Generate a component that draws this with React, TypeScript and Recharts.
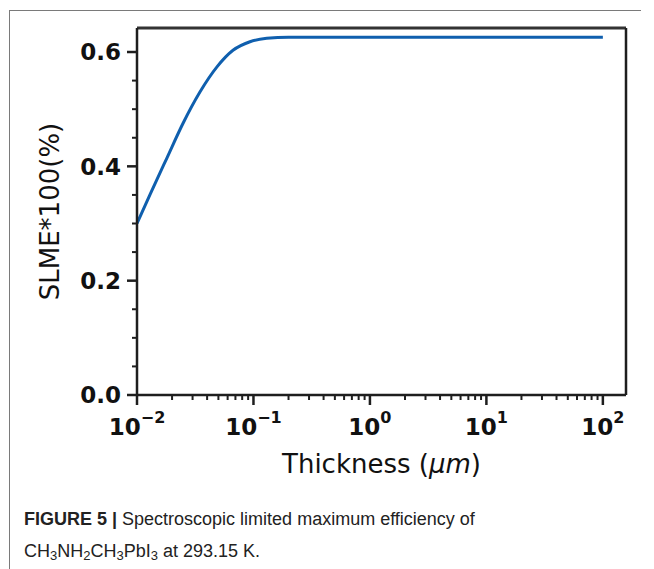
import React from 'react';
import { LineChart, Line, XAxis, YAxis, ReferenceLine } from 'recharts';

const thickness = [0.01, 0.0129, 0.0181, 0.0248, 0.0347, 0.0486, 0.0667, 0.0933, 0.13, 0.2, 0.5, 1, 10, 100];
const slme = [0.3, 0.35, 0.415, 0.475, 0.53, 0.574, 0.603, 0.618, 0.624, 0.626, 0.626, 0.626, 0.626, 0.626];

const xMajorTicks = [0.01, 0.1, 1, 10, 100];
const xTickExponents = ['\u22122', '\u22121', '0', '1', '2'];
const xMinorTicks = [
  0.02, 0.03, 0.04, 0.05, 0.06, 0.07, 0.08, 0.09,
  0.2, 0.3, 0.4, 0.5, 0.6, 0.7, 0.8, 0.9,
  2, 3, 4, 5, 6, 7, 8, 9,
  20, 30, 40, 50, 60, 70, 80, 90,
];
const yMajorTicks = [0, 0.2, 0.4, 0.6];
const yTickLabels = ['0.0', '0.2', '0.4', '0.6'];
const yMinorTicks = [0.05, 0.1, 0.15, 0.25, 0.3, 0.35, 0.45, 0.5, 0.55];

const xDomain = [0.01, 158];
const yDomain = [0, 0.642];

const data = thickness.map((t, i) => ({ t, v: slme[i] }));

const AXIS = '#1e1e1e';
const TICK_FONT = { fontFamily: '"DejaVu Sans", sans-serif', fontSize: 23, fontWeight: 700, fill: '#111' };

const XTick = (props: any) => {
  const { x, y, payload } = props;
  const i = xMajorTicks.indexOf(payload.value);
  if (i < 0) {
    return <line x1={x} x2={x} y1={y} y2={y + 5} stroke={AXIS} strokeWidth={2} />;
  }
  return (
    <g>
      <line x1={x} x2={x} y1={y} y2={y + 10} stroke={AXIS} strokeWidth={2.5} />
      <text x={x} y={y + 40} textAnchor="middle" {...TICK_FONT}>
        <tspan>10</tspan>
        <tspan dy={-12} fontSize={16}>{xTickExponents[i]}</tspan>
      </text>
    </g>
  );
};

const YTick = (props: any) => {
  const { x, y, payload } = props;
  const i = yMajorTicks.indexOf(payload.value);
  if (i < 0) {
    return <line x1={x - 5} x2={x} y1={y} y2={y} stroke={AXIS} strokeWidth={2} />;
  }
  return (
    <g>
      <line x1={x - 10} x2={x} y1={y} y2={y} stroke={AXIS} strokeWidth={2.5} />
      <text x={x - 16} y={y} dy="0.36em" textAnchor="end" {...TICK_FONT}>
        {yTickLabels[i]}
      </text>
    </g>
  );
};

const XLabel = (props: any) => {
  const vb = props.viewBox || { x: 137, y: 395, width: 490, height: 85 };
  const cx = vb.x + vb.width / 2;
  return (
    <text x={cx} y={vb.y + 78} textAnchor="middle" fontFamily='"DejaVu Sans", sans-serif' fontSize={26} fill="#111">
      <tspan>Thickness (</tspan>
      <tspan fontStyle="italic">μm</tspan>
      <tspan>)</tspan>
    </text>
  );
};

const YLabel = (props: any) => {
  const vb = props.viewBox || { x: 0, y: 28, width: 137, height: 367 };
  const cx = vb.x + 50;
  const cy = vb.y + vb.height / 2;
  return (
    <text
      x={cx}
      y={cy}
      transform={`rotate(-90 ${cx} ${cy})`}
      textAnchor="middle"
      dy="0.36em"
      fontFamily='"DejaVu Sans", sans-serif'
      fontSize={26}
      fill="#111"
    >
      SLME*100(%)
    </text>
  );
};

const subStyle: React.CSSProperties = { fontSize: 13, verticalAlign: '-3px', lineHeight: 0 };

export default function App() {
  return (
    <div style={{ position: 'absolute', left: 0, top: 0, width: 654, height: 569, background: '#fff', overflow: 'hidden' }}>
      <div style={{ position: 'absolute', left: 9, top: 10, width: 632, height: 0, borderTop: '1.5px solid #7a7a7a' }} />
      <div style={{ position: 'absolute', left: 9, top: 10, width: 0, height: 559, borderLeft: '1.5px solid #7a7a7a' }} />
      <div style={{ position: 'absolute', left: 0, top: 0 }}>
        <LineChart width={654} height={480} data={data} margin={{ top: 28, right: 28, left: 0, bottom: 0 }}>
          <XAxis
            dataKey="t"
            type="number"
            scale="log"
            domain={xDomain}
            allowDataOverflow
            ticks={[...xMajorTicks, ...xMinorTicks]}
            interval={0}
            tickSize={0}
            tickMargin={0}
            tickLine={false}
            tick={XTick}
            height={85}
            axisLine={{ stroke: AXIS, strokeWidth: 2.5 }}
            label={{ content: XLabel }}
          />
          <YAxis
            type="number"
            domain={yDomain}
            allowDataOverflow
            ticks={[...yMajorTicks, ...yMinorTicks]}
            interval={0}
            tickSize={0}
            tickMargin={0}
            tickLine={false}
            tick={YTick}
            width={137}
            axisLine={{ stroke: AXIS, strokeWidth: 2.5 }}
            label={{ content: YLabel }}
          />
          <ReferenceLine y={yDomain[1]} stroke="#333" strokeWidth={3} ifOverflow="visible" />
          <ReferenceLine x={xDomain[1]} stroke={AXIS} strokeWidth={2.5} ifOverflow="visible" />
          <Line
            type="monotone"
            dataKey="v"
            stroke="#0f5fae"
            strokeWidth={3}
            dot={false}
            isAnimationActive={false}
          />
        </LineChart>
      </div>
      <div
        style={{
          position: 'absolute',
          left: 24,
          top: 503,
          fontFamily: '"Liberation Sans", Arial, sans-serif',
          fontSize: 18,
          lineHeight: '32px',
          color: '#222',
          whiteSpace: 'nowrap',
        }}
      >
        <b>FIGURE 5 |</b> Spectroscopic limited maximum efficiency of
        <br />
        CH<span style={subStyle}>3</span>NH<span style={subStyle}>2</span>CH<span style={subStyle}>3</span>PbI
        <span style={subStyle}>3</span> at 293.15 K.
      </div>
    </div>
  );
}
